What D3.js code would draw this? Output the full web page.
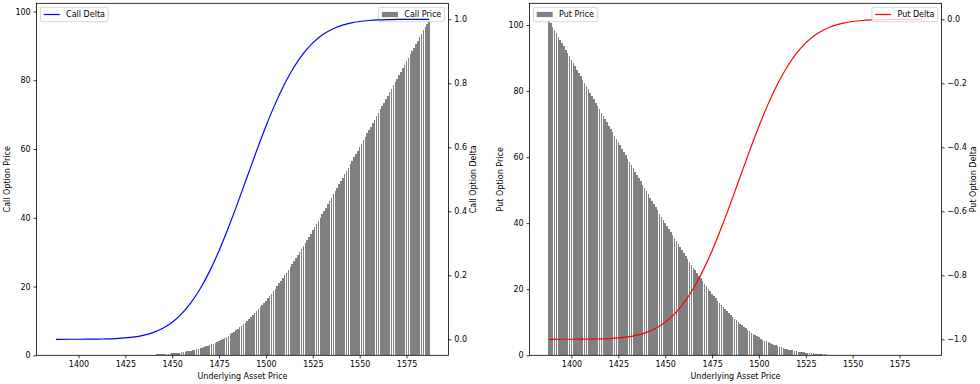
<!DOCTYPE html>
<html>
<head>
<meta charset="utf-8">
<script src="https://cdn.jsdelivr.net/npm/d3@7"></script>
<style>
  body { margin: 0; background: #fff; }
  svg { display: block; font-family: "DejaVu Sans", sans-serif; }
</style>
</head>
<body>
<div class="chart"></div>
<script>
// underlying asset prices, one bar each
const underlying = d3.range(1388, 1588);

const callPrice = [
  0, 0, 0, 0, 0, 0, 0, 0, 0, 0, 0, 0, 0, 0, 0, 0, 0, 0, 0, 0, 0, 0,
  0.01, 0.01, 0.01, 0.01, 0.01, 0.01, 0.01, 0.01, 0.01, 0.01,
  0.02, 0.02, 0.02, 0.02, 0.03, 0.03, 0.04, 0.04, 0.05, 0.05,
  0.06, 0.07, 0.08, 0.09, 0.10, 0.11, 0.13, 0.14, 0.16, 0.18,
  0.20, 0.22, 0.24, 0.27, 0.30, 0.34, 0.37, 0.41, 0.45, 0.50,
  0.55, 0.61, 0.67, 0.73, 0.80, 0.88, 0.96, 1.05, 1.15, 1.25,
  1.36, 1.48, 1.61, 1.74, 1.89, 2.04, 2.21, 2.38, 2.56, 2.76,
  2.97, 3.19, 3.42, 3.66, 3.92, 4.19, 4.47, 4.77, 5.08, 5.41,
  5.75, 6.11, 6.48, 6.87, 7.27, 7.69, 8.12, 8.57, 9.04, 9.53,
  10.03, 10.54, 11.07, 11.62, 12.19, 12.77, 13.37, 13.98, 14.61, 15.25,
  15.91, 16.58, 17.27, 17.97, 18.69, 19.42, 20.16, 20.92, 21.69, 22.47,
  23.26, 24.06, 24.88, 25.71, 26.54, 27.39, 28.24, 29.11, 29.98, 30.86,
  31.75, 32.65, 33.55, 34.46, 35.38, 36.30, 37.23, 38.17, 39.11, 40.05,
  41.00, 41.95, 42.91, 43.87, 44.84, 45.80, 46.77, 47.74, 48.72, 49.70,
  50.68, 51.66, 52.64, 53.63, 54.61, 55.60, 56.59, 57.58, 58.57, 59.56,
  60.55, 61.55, 62.54, 63.54, 64.53, 65.53, 66.52, 67.52, 68.52, 69.52,
  70.51, 71.51, 72.51, 73.51, 74.51, 75.51, 76.51, 77.51, 78.51, 79.51,
  80.50, 81.50, 82.50, 83.50, 84.50, 85.50, 86.50, 87.50, 88.50, 89.50,
  90.50, 91.50, 92.50, 93.50, 94.50, 95.50, 96.50, 97.50
];

const putPrice = [
  101.50, 100.50, 99.50, 98.50, 97.50, 96.50, 95.50, 94.50, 93.50, 92.50, 91.50,
  90.50, 89.50, 88.50, 87.50, 86.50, 85.50, 84.50, 83.50, 82.50, 81.50, 80.50,
  79.51, 78.51, 77.51, 76.51, 75.51, 74.51, 73.51, 72.51, 71.51, 70.51,
  69.52, 68.52, 67.52, 66.52, 65.53, 64.53, 63.54, 62.54, 61.55, 60.55,
  59.56, 58.57, 57.58, 56.59, 55.60, 54.61, 53.63, 52.64, 51.66, 50.68,
  49.70, 48.72, 47.74, 46.77, 45.80, 44.84, 43.87, 42.91, 41.95, 41.00,
  40.05, 39.11, 38.17, 37.23, 36.30, 35.38, 34.46, 33.55, 32.65, 31.75,
  30.86, 29.98, 29.11, 28.24, 27.39, 26.54, 25.71, 24.88, 24.06, 23.26,
  22.47, 21.69, 20.92, 20.16, 19.42, 18.69, 17.97, 17.27, 16.58, 15.91,
  15.25, 14.61, 13.98, 13.37, 12.77, 12.19, 11.62, 11.07, 10.54, 10.03,
  9.53, 9.04, 8.57, 8.12, 7.69, 7.27, 6.87, 6.48, 6.11, 5.75,
  5.41, 5.08, 4.77, 4.47, 4.19, 3.92, 3.66, 3.42, 3.19, 2.97,
  2.76, 2.56, 2.38, 2.21, 2.04, 1.89, 1.74, 1.61, 1.48, 1.36,
  1.25, 1.15, 1.05, 0.96, 0.88, 0.80, 0.73, 0.67, 0.61, 0.55,
  0.50, 0.45, 0.41, 0.37, 0.34, 0.30, 0.27, 0.24, 0.22, 0.20,
  0.18, 0.16, 0.14, 0.13, 0.11, 0.10, 0.09, 0.08, 0.07, 0.06,
  0.05, 0.05, 0.04, 0.04, 0.03, 0.03, 0.02, 0.02, 0.02, 0.02,
  0.01, 0.01, 0.01, 0.01, 0.01, 0.01, 0.01, 0.01, 0.01, 0.01,
  0, 0, 0, 0, 0, 0, 0, 0, 0, 0, 0, 0, 0, 0, 0, 0, 0, 0
];

// delta curves read at coarser steps
const deltaPrices = [
  1388, 1390, 1395, 1400, 1405, 1410, 1415, 1420, 1425, 1430, 1435,
  1440, 1445, 1450, 1455, 1460, 1465, 1470, 1475, 1480, 1485,
  1490, 1495, 1500, 1505, 1510, 1515, 1520, 1525, 1530, 1535,
  1540, 1545, 1550, 1555, 1560, 1565, 1570, 1575, 1580, 1585, 1587
];
const callDelta = [
  0.0000, 0.0000, 0.0001, 0.0001, 0.0003, 0.0006, 0.0012, 0.0023, 0.0042, 0.0076, 0.0131,
  0.0217, 0.0347, 0.0535, 0.0796, 0.1143, 0.1587, 0.2130, 0.2770, 0.3491, 0.4271,
  0.5081, 0.5888, 0.6659, 0.7365, 0.7986, 0.8510, 0.8934, 0.9263, 0.9508, 0.9684,
  0.9804, 0.9883, 0.9932, 0.9962, 0.9980, 0.9990, 0.9995, 0.9998, 0.9999, 1.0000, 1.0000
];
const putDelta = [
  -1.0000, -1.0000, -0.9999, -0.9999, -0.9997, -0.9994, -0.9988, -0.9977, -0.9958, -0.9924, -0.9869,
  -0.9783, -0.9653, -0.9465, -0.9204, -0.8857, -0.8413, -0.7870, -0.7230, -0.6509, -0.5729,
  -0.4919, -0.4112, -0.3341, -0.2635, -0.2014, -0.1490, -0.1066, -0.0737, -0.0492, -0.0316,
  -0.0196, -0.0117, -0.0068, -0.0038, -0.0020, -0.0010, -0.0005, -0.0002, -0.0001, 0.0000, 0.0000
];

const xTicks = [1400, 1425, 1450, 1475, 1500, 1525, 1550, 1575];
const priceTicks = [0, 20, 40, 60, 80, 100];
const callDeltaTicks = [0, 0.2, 0.4, 0.6, 0.8, 1.0];
const putDeltaTicks = [-1.0, -0.8, -0.6, -0.4, -0.2, 0];

const width = 980;
const height = 384;
const plot = {top: 3.3, width: 412, height: 352};
const fontSize = 8;
const barWidth = 0.8;

const svg = d3.select('.chart').append('svg')
    .attr('width', width)
    .attr('height', height);

function styleAxis(g) {
  g.select('.domain').remove();
  g.selectAll('line').attr('stroke', '#000').attr('stroke-width', 0.8);
  g.selectAll('text').attr('font-size', fontSize).attr('fill', '#000')
    .attr('font-family', '"DejaVu Sans", sans-serif');
}

function drawLegend(g, o) {
  const pad = 3.2, handle = 16, gap = 6.4, boxH = 14.4;
  const leg = g.append('g');
  const txt = leg.append('text')
      .attr('font-size', fontSize)
      .attr('dy', '0.35em')
      .text(o.label);
  const tw = txt.node().getComputedTextLength();
  const boxW = pad + handle + gap + tw + pad;
  const bx = o.side === 'left' ? o.left + 4 : o.left + plot.width - 4 - boxW;
  const by = plot.top + 4;
  leg.insert('rect', 'text')
      .attr('x', bx).attr('y', by)
      .attr('width', boxW).attr('height', boxH)
      .attr('rx', 1.6)
      .attr('fill', '#fff').attr('fill-opacity', 0.8)
      .attr('stroke', '#cccccc').attr('stroke-width', 0.8);
  if (o.kind === 'line') {
    leg.insert('line', 'text')
        .attr('x1', bx + pad).attr('x2', bx + pad + handle)
        .attr('y1', by + boxH / 2).attr('y2', by + boxH / 2)
        .attr('stroke', o.color).attr('stroke-width', 1.2);
  } else {
    leg.insert('rect', 'text')
        .attr('x', bx + pad).attr('width', handle)
        .attr('y', by + boxH / 2 - 2.6).attr('height', 5.2)
        .attr('fill', o.color);
  }
  txt.attr('x', bx + pad + handle + gap).attr('y', by + boxH / 2);
}

function drawPanel(p) {
  const left = p.left;
  const bottom = plot.top + plot.height;

  const lo = d3.min(underlying) - barWidth / 2;
  const hi = d3.max(underlying) + barWidth / 2;
  const padX = (hi - lo) * 0.05;
  const x = d3.scaleLinear()
    .domain([lo - padX, hi + padX])
    .range([left, left + plot.width]);

  const y = d3.scaleLinear()
    .domain([0, d3.max(p.prices) * 1.05])
    .range([bottom, plot.top]);

  const y2 = d3.scaleLinear()
    .domain(p.deltaDomain)
    .range([bottom, plot.top]);

  const g = svg.append('g');

  // price bars, snapped to pixels like the original raster
  g.append('g')
      .attr('shape-rendering', 'crispEdges')
    .selectAll('rect')
    .data(d3.zip(underlying, p.prices))
    .enter().append('rect')
      .attr('x', d => x(d[0] - barWidth / 2))
      .attr('width', x(barWidth) - x(0))
      .attr('y', d => y(d[1]))
      .attr('height', d => y(0) - y(d[1]))
      .attr('fill', '#808080');

  drawLegend(g, {left: left, side: p.priceSide, label: p.priceName, kind: 'bar', color: '#808080'});

  // delta line on twin axis
  const line = d3.line()
    .curve(d3.curveMonotoneX)
    .x(d => x(d[0]))
    .y(d => y2(d[1]));

  g.append('path')
      .attr('d', line(d3.zip(deltaPrices, p.deltas)))
      .style('fill', 'none')
      .style('stroke', p.lineColor)
      .style('stroke-width', 1.2);

  drawLegend(g, {left: left, side: p.deltaSide, label: p.deltaName, kind: 'line', color: p.lineColor});

  // frame
  g.append('rect')
      .attr('x', left).attr('y', plot.top)
      .attr('width', plot.width).attr('height', plot.height)
      .attr('fill', 'none')
      .attr('stroke', '#000')
      .attr('stroke-width', 0.8);

  g.append('g')
      .attr('transform', `translate(0, ${bottom})`)
      .call(d3.axisBottom(x).tickValues(xTicks).tickSize(3).tickPadding(2.8).tickFormat(d3.format('d')))
      .call(styleAxis);

  g.append('g')
      .attr('transform', `translate(${left}, 0)`)
      .call(d3.axisLeft(y).tickValues(priceTicks).tickSize(3).tickPadding(2.8).tickFormat(d3.format('d')))
      .call(styleAxis);

  g.append('g')
      .attr('transform', `translate(${left + plot.width}, 0)`)
      .call(d3.axisRight(y2).tickValues(p.deltaTicks).tickSize(3).tickPadding(2.8).tickFormat(d3.format('.1f')))
      .call(styleAxis);

  g.append('text')
      .text('Underlying Asset Price')
      .attr('font-size', fontSize)
      .attr('text-anchor', 'middle')
      .attr('x', left + plot.width / 2)
      .attr('y', bottom + 23.6);

  g.append('text')
      .text(p.yLabel)
      .attr('font-size', fontSize)
      .attr('text-anchor', 'middle')
      .attr('dy', '0.35em')
      .attr('transform', `translate(${left + p.yLabelOffset}, ${plot.top + plot.height / 2}) rotate(-90)`);

  g.append('text')
      .text(p.y2Label)
      .attr('font-size', fontSize)
      .attr('text-anchor', 'middle')
      .attr('dy', '0.35em')
      .attr('transform', `translate(${left + plot.width + p.y2LabelOffset}, ${plot.top + plot.height / 2}) rotate(-90)`);
}

drawPanel({
  left: 36.5,
  prices: callPrice, priceName: 'Call Price', priceSide: 'right',
  deltas: callDelta, deltaName: 'Call Delta', deltaSide: 'left',
  deltaDomain: [-0.05, 1.05], deltaTicks: callDeltaTicks,
  lineColor: 'blue',
  yLabel: 'Call Option Price', yLabelOffset: -29.5,
  y2Label: 'Call Option Delta', y2LabelOffset: 24.5
});

drawPanel({
  left: 529.5,
  prices: putPrice, priceName: 'Put Price', priceSide: 'left',
  deltas: putDelta, deltaName: 'Put Delta', deltaSide: 'right',
  deltaDomain: [-1.05, 0.05], deltaTicks: putDeltaTicks,
  lineColor: 'red',
  yLabel: 'Put Option Price', yLabelOffset: -29,
  y2Label: 'Put Option Delta', y2LabelOffset: 32
});
</script>
</body>
</html>
